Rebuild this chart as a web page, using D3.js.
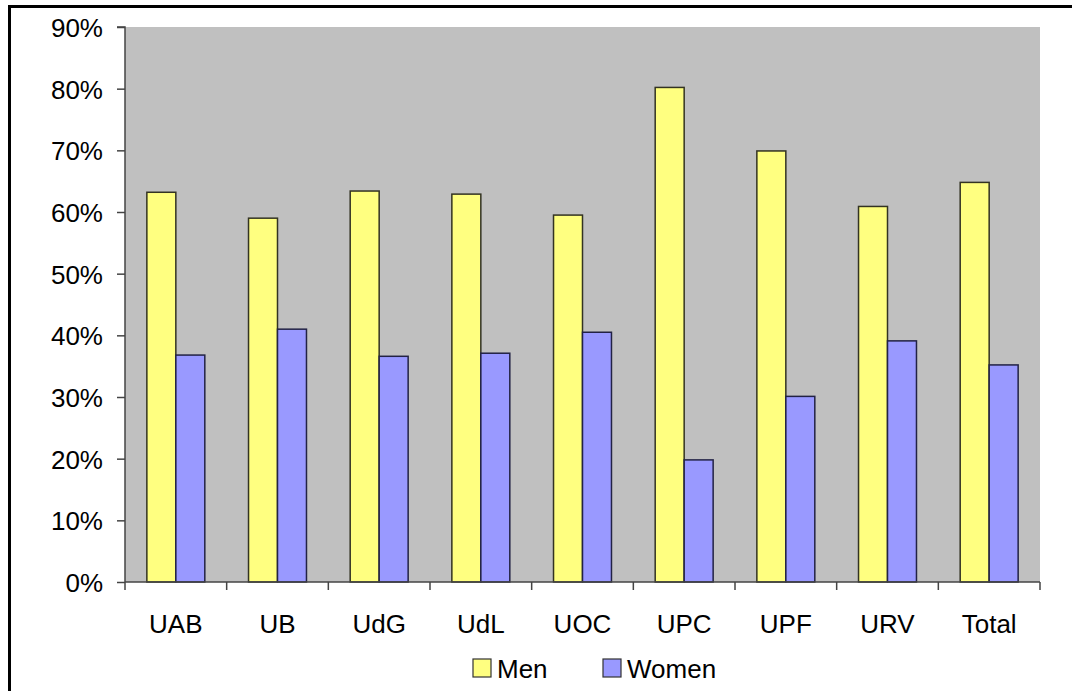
<!DOCTYPE html>
<html><head><meta charset="utf-8">
<script src="https://cdn.jsdelivr.net/npm/d3@7"></script>
<style>body{margin:0;background:#fff}svg{display:block}text{font-family:"Liberation Sans",Arial,sans-serif}</style>
</head><body>
<svg id="c" width="1072" height="691"></svg>
<script>
const categories = ["UAB","UB","UdG","UdL","UOC","UPC","UPF","URV","Total"];
const men   = [63.2, 59.0, 63.4, 62.9, 59.5, 80.2, 69.9, 60.9, 64.8];
const women = [36.8, 41.0, 36.6, 37.1, 40.5, 19.8, 30.1, 39.1, 35.2];
const seriesNames = ["Men","Women"];
const colors = ["#FFFF80","#9999FF"];
const yTicks = [0,10,20,30,40,50,60,70,80,90];

const svg = d3.select("#c");
const L=125, R=1040, T=27, B=582;
// outer border
svg.append("rect").attr("x",9.5).attr("y",6.5).attr("width",1100).attr("height",720)
  .attr("fill","none").attr("stroke","#000").attr("stroke-width",3);

const x = d3.scaleBand().domain(categories).range([L,R]).paddingInner(0.43).paddingOuter(0.215);
const xs = d3.scaleBand().domain(seriesNames).range([0,x.bandwidth()]);
const y = d3.scaleLinear().domain([0,90]).range([B,T]);

svg.append("rect").attr("x",L).attr("y",T).attr("width",R-L).attr("height",B-T).attr("fill","#C0C0C0");

const data = categories.map((c,i)=>({c, vals:[men[i],women[i]]}));
const g = svg.append("g").selectAll("g").data(data).join("g")
  .attr("transform",d=>`translate(${x(d.c)},0)`);
g.selectAll("rect").data(d=>d.vals.map((v,j)=>({v,s:seriesNames[j],j}))).join("rect")
  .attr("x",d=>xs(d.s)).attr("width",xs.bandwidth())
  .attr("y",d=>y(d.v)).attr("height",d=>B-y(d.v))
  .attr("fill",d=>colors[d.j]).attr("stroke",d=>d.j?"#222244":"#333322").attr("stroke-width",1.5);

// y axis
const ya = d3.axisLeft(y).tickValues(yTicks).tickFormat(d=>d+"%").tickSize(8).tickPadding(14);
const yg = svg.append("g").attr("transform",`translate(${L},0)`).call(ya);
yg.select(".domain").attr("stroke","#444").attr("stroke-width",1.5).attr("d",`M-8,${T}H0V${B}`);
yg.selectAll(".tick line").attr("stroke","#444").attr("stroke-width",1.5);
yg.selectAll("text").attr("font-size",26).attr("fill","#000").attr("dy","0.36em");

// x axis with ticks at category boundaries
const step = (R-L)/categories.length;
const xa = svg.append("g");
xa.append("line").attr("x1",L).attr("x2",R).attr("y1",B).attr("y2",B).attr("stroke","#444").attr("stroke-width",1.5);
xa.selectAll("line.t").data(d3.range(categories.length+1)).join("line").attr("class","t")
  .attr("x1",i=>L+i*step).attr("x2",i=>L+i*step).attr("y1",B).attr("y2",B+8)
  .attr("stroke","#444").attr("stroke-width",1.5);
xa.selectAll("text").data(categories).join("text")
  .attr("x",d=>x(d)+x.bandwidth()/2).attr("y",633).attr("text-anchor","middle")
  .attr("font-size",26).attr("fill","#000").text(d=>d);

// legend
const leg = svg.append("g");
const lx=[473,603];
seriesNames.forEach((s,i)=>{
  leg.append("rect").attr("x",lx[i]).attr("y",659).attr("width",18).attr("height",18)
    .attr("fill",colors[i]).attr("stroke","#333").attr("stroke-width",1.2);
  leg.append("text").attr("x",lx[i]+24).attr("y",678).attr("font-size",26).attr("fill","#000").text(s);
});
</script>
</body></html>
